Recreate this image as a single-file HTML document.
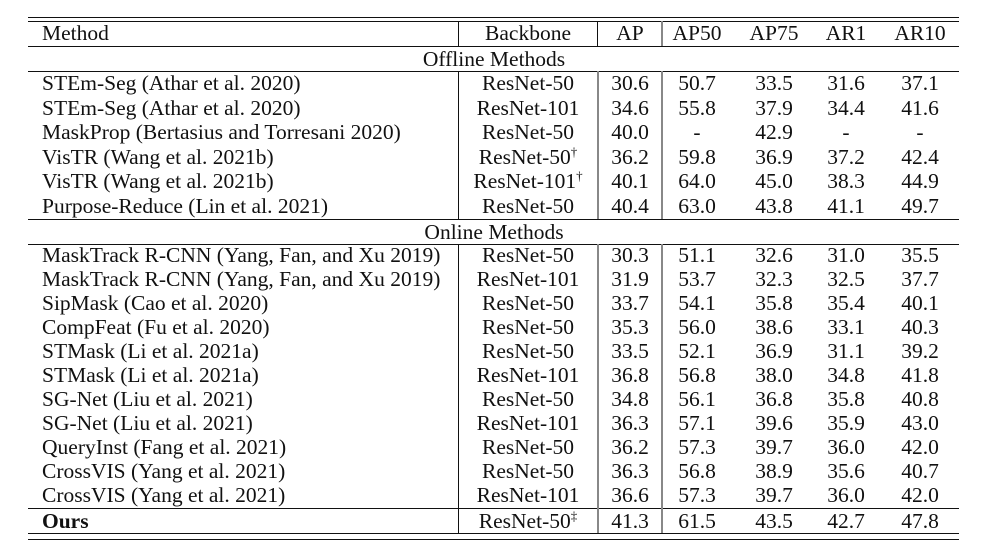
<!DOCTYPE html>
<html><head><meta charset="utf-8"><style>
body{margin:0;background:#fff;width:989px;height:551px;position:relative;overflow:hidden;font-family:"Liberation Serif",serif;font-size:21.5px;color:#111}
.h{position:absolute;left:28px;width:931px;height:1.3px;background:#111}
.v{position:absolute;width:1.3px;background:#111}
.g{background:#888;width:2px}
.r{position:absolute;left:0;width:989px;height:24px;line-height:24px;white-space:nowrap}
.r span{position:absolute;transform:translateX(-50%)}
.r span.m{left:42px;transform:none}
.r span:nth-child(2){left:528px}
.r span:nth-child(3){left:630px}
.r span:nth-child(4){left:697px}
.r span:nth-child(5){left:774px}
.r span:nth-child(6){left:846px}
.r span:nth-child(7){left:920px}
.r span.s{left:494px}
sup{font-size:13px;vertical-align:8px;line-height:0}
</style></head><body>
<div class="h" style="top:17px"></div>
<div class="h" style="top:21px"></div>
<div class="h" style="top:45.5px"></div>
<div class="h" style="top:70.5px"></div>
<div class="h" style="top:218.5px"></div>
<div class="h" style="top:243.5px"></div>
<div class="h" style="top:507.5px"></div>
<div class="h" style="top:532.5px"></div>
<div class="h" style="top:538.5px"></div>
<div class="v" style="left:458px;top:21px;height:25px"></div>
<div class="v" style="left:597px;top:21px;height:25px"></div>
<div class="v g" style="left:661px;top:21px;height:25px"></div>
<div class="v" style="left:458px;top:71px;height:148px"></div>
<div class="v g" style="left:597px;top:71px;height:148px"></div>
<div class="v g" style="left:661px;top:71px;height:148px"></div>
<div class="v" style="left:458px;top:244px;height:289px"></div>
<div class="v g" style="left:597px;top:244px;height:289px"></div>
<div class="v g" style="left:661px;top:244px;height:289px"></div>

<div class="r" style="top:21px"><span class="m">Method</span><span>Backbone</span><span>AP</span><span>AP50</span><span>AP75</span><span>AR1</span><span>AR10</span></div>
<div class="r" style="top:47px"><span class="s">Offline Methods</span></div>
<div class="r" style="top:71px"><span class="m">STEm-Seg (Athar et al. 2020)</span><span>ResNet-50</span><span>30.6</span><span>50.7</span><span>33.5</span><span>31.6</span><span>37.1</span></div>
<div class="r" style="top:95.5px"><span class="m">STEm-Seg (Athar et al. 2020)</span><span>ResNet-101</span><span>34.6</span><span>55.8</span><span>37.9</span><span>34.4</span><span>41.6</span></div>
<div class="r" style="top:120px"><span class="m">MaskProp (Bertasius and Torresani 2020)</span><span>ResNet-50</span><span>40.0</span><span>-</span><span>42.9</span><span>-</span><span>-</span></div>
<div class="r" style="top:144.5px"><span class="m">VisTR (Wang et al. 2021b)</span><span>ResNet-50<sup>†</sup></span><span>36.2</span><span>59.8</span><span>36.9</span><span>37.2</span><span>42.4</span></div>
<div class="r" style="top:169px"><span class="m">VisTR (Wang et al. 2021b)</span><span>ResNet-101<sup>†</sup></span><span>40.1</span><span>64.0</span><span>45.0</span><span>38.3</span><span>44.9</span></div>
<div class="r" style="top:194px"><span class="m">Purpose-Reduce (Lin et al. 2021)</span><span>ResNet-50</span><span>40.4</span><span>63.0</span><span>43.8</span><span>41.1</span><span>49.7</span></div>
<div class="r" style="top:219.5px"><span class="s">Online Methods</span></div>
<div class="r" style="top:243px"><span class="m">MaskTrack R-CNN (Yang, Fan, and Xu 2019)</span><span>ResNet-50</span><span>30.3</span><span>51.1</span><span>32.6</span><span>31.0</span><span>35.5</span></div>
<div class="r" style="top:267px"><span class="m">MaskTrack R-CNN (Yang, Fan, and Xu 2019)</span><span>ResNet-101</span><span>31.9</span><span>53.7</span><span>32.3</span><span>32.5</span><span>37.7</span></div>
<div class="r" style="top:291px"><span class="m">SipMask (Cao et al. 2020)</span><span>ResNet-50</span><span>33.7</span><span>54.1</span><span>35.8</span><span>35.4</span><span>40.1</span></div>
<div class="r" style="top:315px"><span class="m">CompFeat (Fu et al. 2020)</span><span>ResNet-50</span><span>35.3</span><span>56.0</span><span>38.6</span><span>33.1</span><span>40.3</span></div>
<div class="r" style="top:339px"><span class="m">STMask (Li et al. 2021a)</span><span>ResNet-50</span><span>33.5</span><span>52.1</span><span>36.9</span><span>31.1</span><span>39.2</span></div>
<div class="r" style="top:363px"><span class="m">STMask (Li et al. 2021a)</span><span>ResNet-101</span><span>36.8</span><span>56.8</span><span>38.0</span><span>34.8</span><span>41.8</span></div>
<div class="r" style="top:387px"><span class="m">SG-Net (Liu et al. 2021)</span><span>ResNet-50</span><span>34.8</span><span>56.1</span><span>36.8</span><span>35.8</span><span>40.8</span></div>
<div class="r" style="top:411px"><span class="m">SG-Net (Liu et al. 2021)</span><span>ResNet-101</span><span>36.3</span><span>57.1</span><span>39.6</span><span>35.9</span><span>43.0</span></div>
<div class="r" style="top:435px"><span class="m">QueryInst (Fang et al. 2021)</span><span>ResNet-50</span><span>36.2</span><span>57.3</span><span>39.7</span><span>36.0</span><span>42.0</span></div>
<div class="r" style="top:459px"><span class="m">CrossVIS (Yang et al. 2021)</span><span>ResNet-50</span><span>36.3</span><span>56.8</span><span>38.9</span><span>35.6</span><span>40.7</span></div>
<div class="r" style="top:483px"><span class="m">CrossVIS (Yang et al. 2021)</span><span>ResNet-101</span><span>36.6</span><span>57.3</span><span>39.7</span><span>36.0</span><span>42.0</span></div>
<div class="r" style="top:508.5px"><span class="m"><b>Ours</b></span><span>ResNet-50<sup>‡</sup></span><span>41.3</span><span>61.5</span><span>43.5</span><span>42.7</span><span>47.8</span></div>
</body></html>
